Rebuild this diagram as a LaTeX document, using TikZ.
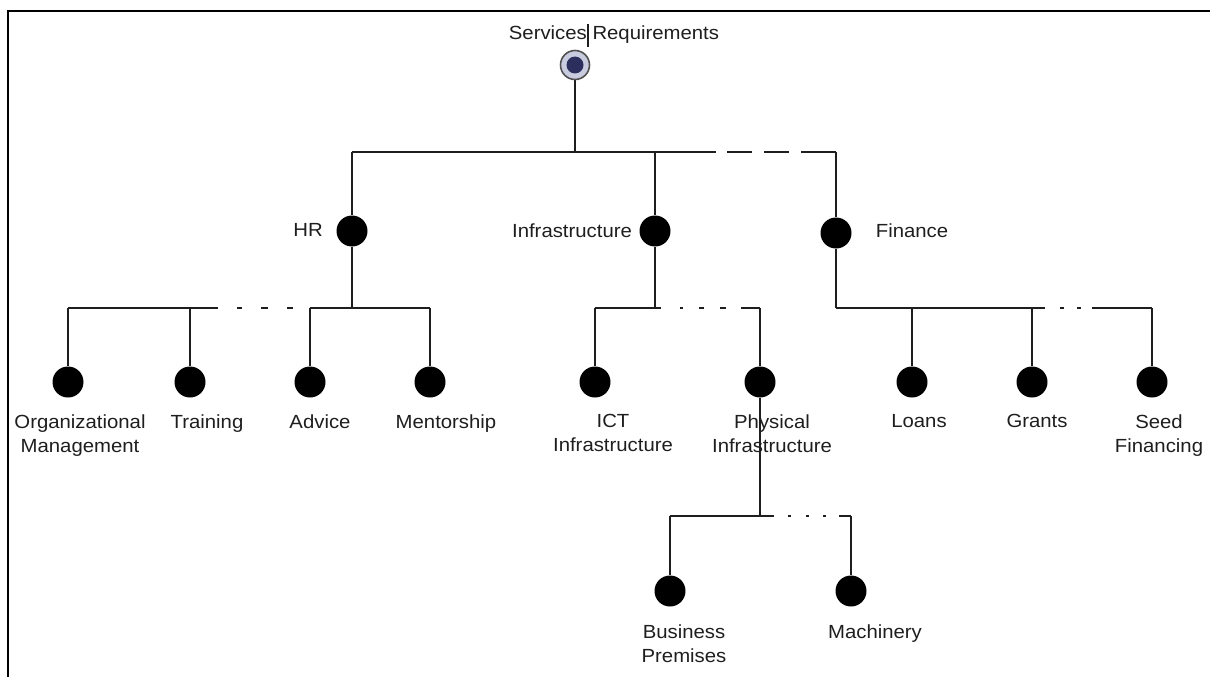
\documentclass[tikz,border=0pt]{standalone}
\usepackage{fontspec}
\setmainfont{Liberation Sans}[FakeStretch=1.07]
\definecolor{ringfill}{HTML}{C9CCDF}
\definecolor{ringedge}{HTML}{505050}
\definecolor{corefill}{HTML}{2C2F5E}
\definecolor{ink}{HTML}{1E1E1E}
\pgfdeclarelayer{bg}
\pgfsetlayers{bg,main}
\begin{document}
\begin{tikzpicture}[x=1pt,y=-1pt,
  conn/.style={line width=1.3pt, draw=ink},
  leaf/.style={circle, fill=black, minimum size=31pt, inner sep=0pt},
  lbl/.style={anchor=north, inner sep=0pt, align=center,
              font=\fontsize{19}{24}\selectfont, text=ink},
  rootnode/.style={circle, minimum size=29pt, inner sep=0pt, fill=ringfill,
              draw=ringedge, line width=1.6pt,
              path picture={\fill[corefill] (path picture bounding box.center) circle (8.5pt);}}
]
\useasboundingbox (0,0) rectangle (1210,677);

% page frame
\draw[line width=2.5pt] (8,677) -- (8,11) -- (1210,11);

% bus heights
\coordinate (lvA) at (0,152);
\coordinate (lvB) at (0,308);
\coordinate (lvC) at (0,516);

% root
\node[rootnode] (root) at (575,65) {};
\node[lbl] (title) at (614,25.4) {Services Requirements};
\draw[line width=1.2pt, ink] (588,24) -- (588,47);

% first level
\node[leaf] (hr)    at (352,231) {};
\node[leaf] (infra) at (655,231) {};
\node[leaf] (fin)   at (836,233) {};
\node[lbl] (hrL)    at (308,223.4) {HR};
\node[lbl] (infraL) at (572,223.4) {Infrastructure};
\node[lbl] (finL)   at (912,223.4) {Finance};

% HR children
\node[leaf] (org)   at (68,382) {};
\node[leaf] (train) at (190,382) {};
\node[leaf] (adv)   at (310,382) {};
\node[leaf] (ment)  at (430,382) {};
\node[lbl] (orgL)   at (80,414.4) {Organizational\\Management};
\node[lbl] (trainL) at (207,414.4) {Training};
\node[lbl] (advL)   at (320,414.4) {Advice};
\node[lbl] (mentL)  at (446,414.4) {Mentorship};

% Infrastructure children
\node[leaf] (ict)  at (595,382) {};
\node[leaf] (phys) at (760,382) {};
\node[lbl] (ictL)  at (613,414.4) {ICT\\Infrastructure};
\node[lbl] (physL) at (772,414.4) {Physical\\Infrastructure};

% Finance children
\node[leaf] (loan)  at (912,382) {};
\node[leaf] (grant) at (1032,382) {};
\node[leaf] (seed)  at (1152,382) {};
\node[lbl] (loanL)  at (919,414.4) {Loans};
\node[lbl] (grantL) at (1037,414.4) {Grants};
\node[lbl] (seedL)  at (1159,414.4) {Seed\\Financing};

% Physical infrastructure children
\node[leaf] (prem) at (670,591) {};
\node[leaf] (mach) at (851,591) {};
\node[lbl] (premL) at (684,624.4) {Business\\Premises};
\node[lbl] (machL) at (875,624.4) {Machinery};

\begin{pgfonlayer}{bg}
  % root to first level
  \draw[conn] (root) -- (root |- lvA);
  \draw[conn] (hr |- lvA) -- (infra |- lvA);
  \draw[conn] (hr |- lvA) -- (hr);
  \draw[conn] (infra |- lvA) -- (infra);
  \draw[ink, line width=2.3pt,
        dash pattern=on 61pt off 11pt on 25pt off 12pt on 25pt off 12pt on 40pt]
        (infra |- lvA) -- (fin |- lvA);
  \draw[conn] (fin |- lvA) -- (fin);

  % HR branch
  \draw[conn] (hr) -- (hr |- lvB);
  \draw[conn, dash pattern=on 150pt off 19pt on 5pt off 19pt on 7pt off 19pt on 6pt off 17pt on 200pt]
        (org |- lvB) -- (ment |- lvB);
  \foreach \c in {org,train,adv,ment}
    \draw[conn] (\c |- lvB) -- (\c);

  % Infrastructure branch
  \draw[conn] (infra) -- (infra |- lvB);
  \draw[conn, dash pattern=on 66pt off 19pt on 3pt off 16pt on 5pt off 16pt on 6pt off 15pt on 40pt]
        (ict |- lvB) -- (phys |- lvB);
  \draw[conn] (ict |- lvB) -- (ict);
  \draw[conn] (phys |- lvB) -- (phys);

  % Finance branch
  \draw[conn, dash pattern=on 209pt off 15pt on 4pt off 13pt on 4pt off 11pt on 80pt]
        (fin |- lvB) -- (seed |- lvB);
  \draw[conn] (fin) -- (fin |- lvB);
  \foreach \c in {loan,grant,seed}
    \draw[conn] (\c |- lvB) -- (\c);

  % Physical infrastructure branch
  \draw[conn] (phys) -- (phys |- lvC);
  \draw[conn, dash pattern=on 104pt off 14pt on 3pt off 15pt on 3pt off 14pt on 3pt off 13pt on 30pt]
        (prem |- lvC) -- (mach |- lvC);
  \draw[conn] (prem |- lvC) -- (prem);
  \draw[conn] (mach |- lvC) -- (mach);
\end{pgfonlayer}
\end{tikzpicture}
\end{document}
